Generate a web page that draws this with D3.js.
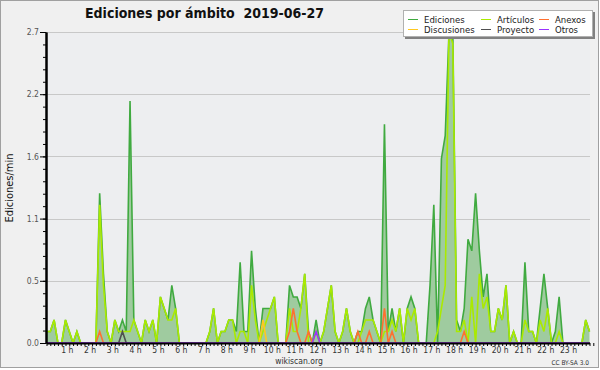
<!DOCTYPE html>
<html>
<head>
<meta charset="utf-8">
<script src="https://cdn.jsdelivr.net/npm/d3@7"></script>
<style>
  body { margin: 0; background: #fff; }
  svg { display: block; font-family: "DejaVu Sans Condensed", "DejaVu Sans", sans-serif; }
</style>
</head>
<body>
<div id="chart"></div>
<script>
// one value per 10 minutes, 00:00 -> 23:50 (edits per minute)
const ediciones = [
  0.1,0.1,0.2,0,0,0.2,0.1,0,0.1,0,0,0,0,0,1.3,0.6,0.1,0,0.2,0.1,0.2,0.1,2.1,0.2,
  0.1,0,0.2,0.1,0.2,0,0.4,0.3,0.2,0.5,0.3,0,0,0,0,0,0,0,0,0.1,0.3,0,0.1,0.1,
  0.2,0.2,0.1,0.7,0.1,0.1,0.8,0.3,0,0.3,0.3,0.3,0.4,0,0,0,0.5,0.4,0.4,0.3,0.6,0.1,0,0.2,
  0,0.1,0.3,0.5,0.1,0,0.1,0.3,0.1,0,0.1,0.1,0.3,0.4,0.2,0.1,0,1.9,0.1,0.3,0.1,0.3,0,0.3,
  0.4,0.3,0,0,0,0.5,1.2,0,1.6,1.8,2.7,2.7,0.2,0.1,0.3,0.9,0.8,1.3,0.8,0.4,0.6,0.1,0.1,0.3,
  0.2,0.5,0,0.1,0,0,0.7,0.1,0.1,0,0.3,0.6,0.3,0,0.1,0.4,0,0,0,0,0,0,0.2,0.1
];
const articulos = [
  0.1,0.1,0.2,0,0,0.2,0.1,0,0.1,0,0,0,0,0,1.2,0.5,0.1,0,0.2,0.1,0.1,0.1,0.1,0.2,
  0.1,0,0.2,0.1,0.2,0,0.4,0.3,0.2,0.2,0.3,0,0,0,0,0,0,0,0,0.1,0.3,0,0.1,0.1,
  0.2,0.2,0,0.1,0.1,0,0.5,0.2,0,0.1,0.2,0.3,0.4,0,0,0,0.3,0.1,0.1,0.3,0.6,0,0,0.1,
  0,0.1,0.3,0.5,0.1,0,0.1,0.3,0.1,0,0,0.1,0.2,0.2,0.2,0.1,0,0.1,0.1,0.2,0.1,0.3,0,0.3,
  0.2,0.3,0,0,0,0,0,0.1,0.3,0.5,2.7,2.6,0.1,0.1,0.2,0,0.4,0,0.6,0.3,0.4,0.1,0.1,0.3,
  0.2,0.5,0,0.1,0,0,0.2,0.1,0.1,0,0.2,0.1,0.3,0,0,0.1,0,0,0,0,0,0,0.2,0.1
];
const anexos = [
  0,0,0,0,0,0,0,0,0,0,0,0,0,0,0.1,0,0,0,0,0,0,0,0,0,
  0,0,0,0,0,0,0,0,0,0,0,0,0,0,0,0,0,0,0,0,0,0,0,0,
  0,0,0,0,0,0,0,0,0,0,0,0,0,0,0,0,0.1,0.3,0.1,0,0,0.1,0,0,
  0,0,0,0,0,0,0,0,0,0,0.1,0,0,0.1,0,0,0,0.3,0,0.1,0,0,0,0,
  0,0,0,0,0,0,0,0,0,0,0,0,0,0,0.1,0,0,0,0,0,0,0,0,0,
  0,0,0,0,0,0,0,0,0,0,0,0,0,0,0,0,0,0,0,0,0,0,0,0
];
const discusiones = [
  0,0,0,0,0,0,0,0,0,0,0,0,0,0,0,0,0,0,0,0,0,0,0,0,
  0,0,0,0,0,0,0,0,0,0,0,0,0,0,0,0,0,0,0,0,0,0,0,0,
  0,0,0,0,0,0,0,0,0,0.2,0,0,0,0,0,0,0,0,0,0,0,0,0,0,
  0,0,0,0,0,0,0,0,0,0,0,0,0,0,0,0,0,0,0,0,0,0,0,0,
  0,0,0,0,0,0,0,0,0,0,0,0,0,0,0,0,0,0,0,0,0,0,0,0,
  0,0,0,0,0,0,0,0,0,0,0,0,0,0,0,0,0,0,0,0,0,0,0,0
];
const proyecto = [
  0,0,0,0,0,0,0,0,0,0,0,0,0,0,0,0,0,0,0,0,0.1,0,0,0,
  0,0,0,0,0,0,0,0,0,0,0,0,0,0,0,0,0,0,0,0,0,0,0,0,
  0,0,0,0,0,0,0,0,0,0,0,0,0,0,0,0,0,0,0,0,0,0,0,0,
  0,0,0,0,0,0,0,0,0,0,0,0,0,0,0,0,0,0,0,0,0,0,0,0,
  0,0,0,0,0,0,0,0,0,0,0,0,0,0,0,0,0,0,0,0,0,0,0,0,
  0,0,0,0,0,0,0,0,0,0,0,0,0,0,0,0,0,0,0,0,0,0,0,0
];
const otros = [
  0,0,0,0,0,0,0,0,0,0,0,0,0,0,0,0,0,0,0,0,0,0,0,0,
  0,0,0,0,0,0,0,0,0,0,0,0,0,0,0,0,0,0,0,0,0,0,0,0,
  0,0,0,0,0,0,0,0,0,0,0,0,0,0,0,0,0,0,0,0,0,0,0,0.1,
  0,0,0,0,0,0,0,0,0,0,0,0,0,0,0,0,0,0,0,0,0,0,0,0,
  0,0,0,0,0,0,0,0,0,0,0,0,0,0,0,0,0,0,0,0,0,0,0,0,
  0,0,0,0,0,0,0,0,0,0,0,0,0,0,0,0,0,0,0,0,0,0,0,0
];

const seriesNames = ["Ediciones", "Artículos", "Anexos", "Discusiones", "Proyecto", "Otros"];
const seriesColors = ["#40aa40", "#aaea00", "#ff7030", "#ffc820", "#505050", "#9933ff"];
const yTicks = [0, 0.54, 1.08, 1.62, 2.16, 2.7];
const hourLabels = ["1 h","2 h","3 h","4 h","5 h","6 h","7 h","8 h","9 h","10 h","11 h","12 h",
  "13 h","14 h","15 h","16 h","17 h","18 h","19 h","20 h","21 h","22 h","23 h"];

const W = 600, H = 370;
const plot = { left: 46, right: 590, top: 32, bottom: 343 };

const svg = d3.select("#chart").append("svg")
    .attr("width", W)
    .attr("height", H);

svg.append("rect")
    .attr("x", 0.5).attr("y", 0.5)
    .attr("width", W - 2).attr("height", 367)
    .attr("fill", "#f0f0f0")
    .attr("stroke", "#a0a0a0");

svg.append("rect")
    .attr("x", plot.left).attr("y", plot.top)
    .attr("width", plot.right - plot.left)
    .attr("height", plot.bottom - plot.top)
    .attr("fill", "#edeef0");

const x = d3.scaleLinear()
    .domain([0, ediciones.length - 1])
    .range([plot.left + 0.5, plot.right - 0.5]);

const y = d3.scaleLinear()
    .domain([0, 2.7])
    .range([plot.bottom, plot.top]);

// grid
svg.append("g").selectAll("line")
    .data(yTicks.slice(1))
    .enter().append("line")
    .attr("x1", plot.left).attr("x2", plot.right)
    .attr("y1", d => Math.round(y(d)) + 0.5)
    .attr("y2", d => Math.round(y(d)) + 0.5)
    .attr("stroke", "#c8c8c8");

// filled total
const area = d3.area()
    .x((d, i) => x(i))
    .y0(y(0))
    .y1(d => y(d));

svg.append("path")
    .datum(ediciones)
    .attr("d", area)
    .attr("fill", "#9fcb9f");

const line = d3.line()
    .x((d, i) => x(i))
    .y(d => y(d));

const allSeries = [ediciones, articulos, anexos, discusiones, proyecto, otros];
const drawOrder = [0, 1, 3, 2, 4, 5];

drawOrder.forEach(k => {
    svg.append("path")
        .datum(allSeries[k])
        .attr("d", line)
        .attr("fill", "none")
        .attr("stroke", seriesColors[k])
        .attr("stroke-width", 1.6)
        .attr("stroke-linejoin", "miter");
});

// y axis
const yAxisG = svg.append("g")
    .attr("transform", `translate(${plot.left},0)`);

yAxisG.call(d3.axisLeft(y)
    .tickValues(d3.range(0, 2.7001, 0.108))
    .tickSize(3)
    .tickSizeOuter(0)
    .tickFormat(""));

yAxisG.append("g").call(d3.axisLeft(y)
    .tickValues(yTicks)
    .tickSize(6)
    .tickSizeOuter(0)
    .tickFormat(d3.format(".1f")));

yAxisG.selectAll("path.domain").attr("stroke", "#000").attr("stroke-width", 2);
yAxisG.selectAll("line").attr("stroke", "#000");
yAxisG.selectAll("text")
    .attr("x", -7)
    .style("font-size", "8.5px")
    .style("font-family", "DejaVu Sans Condensed")
    .style("fill", "#555");

// x axis
const xAxisG = svg.append("g")
    .attr("transform", `translate(0,${plot.bottom})`);

xAxisG.call(d3.axisBottom(x)
    .tickValues(d3.range(0, ediciones.length + 1))
    .tickSize(3)
    .tickSizeOuter(0)
    .tickFormat(""));

xAxisG.select("path.domain").attr("stroke", "#000").attr("stroke-width", 2);
xAxisG.selectAll("line").attr("stroke", "#000");

svg.append("g").selectAll("text")
    .data(hourLabels)
    .enter().append("text")
    .attr("x", (d, i) => x((i + 1) * 6) - 2)
    .attr("y", 353)
    .attr("text-anchor", "middle")
    .style("font-size", "8.5px")
    .style("fill", "#333")
    .text(d => d);

// titles
svg.append("text")
    .attr("x", 85).attr("y", 18)
    .style("font-size", "14px")
    .style("font-weight", "bold")
    .style("white-space", "pre")
    .style("fill", "#111")
    .text("Ediciones por ámbito  2019-06-27");

svg.append("text")
    .attr("transform", "translate(13,188) rotate(-90)")
    .attr("text-anchor", "middle")
    .style("font-size", "11px")
    .style("fill", "#111")
    .text("Ediciones/min");

svg.append("text")
    .attr("x", 299).attr("y", 364)
    .attr("text-anchor", "middle")
    .style("font-size", "8.5px")
    .style("fill", "#333")
    .text("wikiscan.org");

svg.append("text")
    .attr("x", 589).attr("y", 365)
    .attr("text-anchor", "end")
    .style("font-size", "6.5px")
    .style("fill", "#333")
    .text("CC BY-SA 3.0");

// legend
const legend = svg.append("g");
legend.append("rect")
    .attr("x", 405).attr("y", 12)
    .attr("width", 190).attr("height", 27)
    .attr("fill", "#808080");
legend.append("rect")
    .attr("x", 403.5).attr("y", 10.5)
    .attr("width", 189).attr("height", 26)
    .attr("fill", "#fff")
    .attr("stroke", "#b0b0b0");

const colX = [408, 481, 539];
seriesNames.forEach((name, i) => {
    const cx = colX[i % 3];
    const cy = 19.5 + Math.floor(i / 3) * 10;
    legend.append("line")
        .attr("x1", cx).attr("x2", cx + 10)
        .attr("y1", cy).attr("y2", cy)
        .attr("stroke", seriesColors[i])
        .attr("stroke-width", 1);
    legend.append("text")
        .attr("x", cx + 16).attr("y", cy + 3.5)
        .style("font-size", "9.5px")
        .style("fill", "#222")
        .text(name);
});
</script>
</body>
</html>
